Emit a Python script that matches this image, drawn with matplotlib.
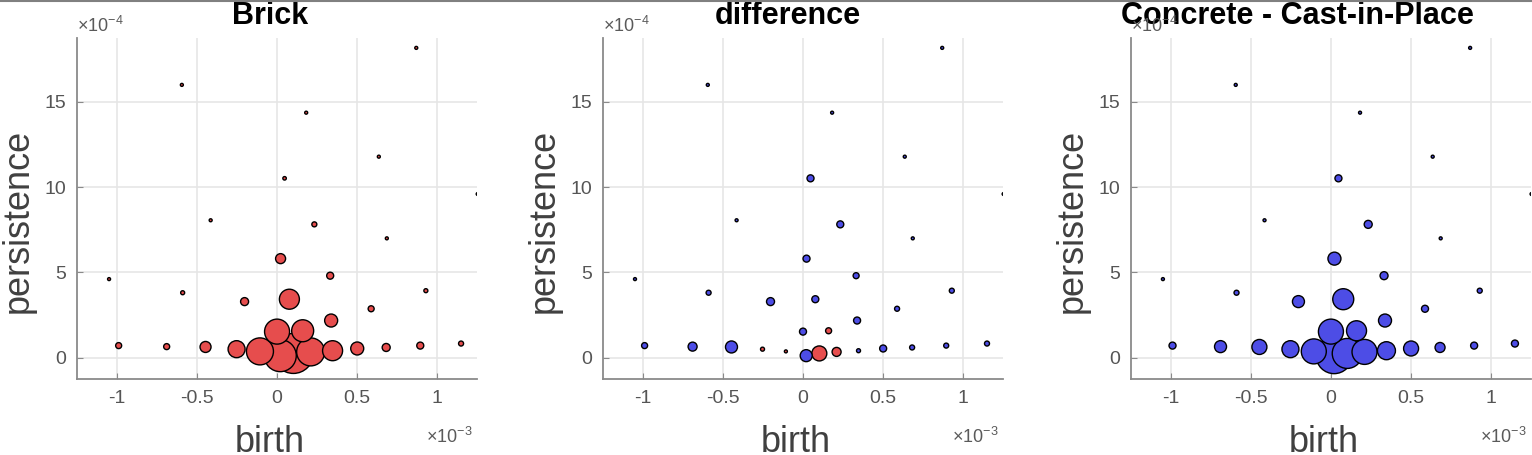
import numpy as np
import matplotlib
matplotlib.use('Agg')
import matplotlib.pyplot as plt
from matplotlib.lines import Line2D

plt.rcParams['font.family'] = 'Liberation Sans'
plt.rcParams['axes.unicode_minus'] = False
plt.rcParams['mathtext.fontset'] = 'custom'
plt.rcParams['mathtext.rm'] = 'Liberation Sans'
plt.rcParams['mathtext.it'] = 'Liberation Sans:italic'
plt.rcParams['mathtext.bf'] = 'Liberation Sans:bold'

# persistence diagram points: birth in 1e-3, persistence in 1e-4
birth = np.array([0.87, -0.595, 0.182, 0.636, 0.047, 1.254, -0.415, 0.233, 0.686, 0.022,
                  0.332, -1.05, -0.59, 0.93, 0.077, -0.203, 0.588, 0.338, 0.0, 0.16,
                  -0.99, -0.69, -0.447, -0.253, -0.107, 0.02, 0.102, 0.21, 0.347, 0.501,
                  0.682, 0.895, 1.15])
persistence = np.array([18.17, 16.0, 14.37, 11.79, 10.52, 9.6, 8.06, 7.82, 7.0, 5.81,
                        4.81, 4.61, 3.81, 3.93, 3.43, 3.29, 2.87, 2.18, 1.53, 1.58,
                        0.71, 0.65, 0.63, 0.5, 0.37, 0.12, 0.25, 0.34, 0.41, 0.54,
                        0.6, 0.71, 0.83])

# point weights (bubble diameter) per material, signed for the difference
brick_w = np.array([3, 3, 3, 3, 3.5, 3, 3, 5, 3, 10, 7, 3, 4, 4, 20, 8, 6, 13, 25, 22,
                    6, 6, 11, 17, 27, 32, 40, 28, 20, 13, 8, 7, 5])
concrete_w = np.array([3, 3, 3, 3, 7, 3, 3, 8, 3, 13, 8, 3, 5, 5, 21, 12, 7, 13, 25, 20,
                       7, 12, 15, 17, 25, 36, 30, 25, 18, 15, 10, 7, 7])
diff_w = np.array([3, 3, 3, 3, 7, 3, 3, 7, 3, 7, 6, 3, 5, 5, 7, 8, 5, 7, 7, -6,
                   6, 9, 12, -4, -3, 12, -15, -9, 4, 7, 5, 5, 5])

titles = ['Brick', 'difference', 'Concrete - Cast-in-Place']
title_x = [0.483, 0.462, 0.4175]
xticks = [-1, -0.5, 0, 0.5, 1]
yticks = [0, 5, 10, 15]

red = '#e64d4d'
blue = '#4d4de6'

fig = plt.figure(figsize=(15.32, 4.55), dpi=100)
lefts = [0.0503, 0.3936, 0.7382]

panels = [(brick_w, np.array([red] * len(brick_w))),
          (diff_w, np.where(diff_w < 0, red, blue)),
          (concrete_w, np.array([blue] * len(concrete_w)))]

for i, (w, cols) in enumerate(panels):
    ax = fig.add_axes([lefts[i], 0.167, 0.2611, 0.7495])
    # bigger bubbles first so the small ones stay visible on top
    order = np.argsort(-np.abs(w), kind='stable')
    s = (0.72 * np.abs(w)) ** 2
    ax.scatter(birth[order], persistence[order], s=s[order], c=cols[order],
               edgecolors='k', linewidths=1.0, zorder=3)
    ax.set_xlim(-1.25, 1.25)
    ax.set_ylim(-1.25, 18.75)
    ax.set_xticks(xticks)
    ax.set_xticklabels(['%g' % t for t in xticks])
    ax.set_yticks(yticks)
    ax.set_yticklabels(['%g' % t for t in yticks])
    ax.grid(True, color='#e6e6e6', lw=1.2, zorder=0)
    ax.set_axisbelow(True)
    for sp in ['top', 'right']:
        ax.spines[sp].set_visible(False)
    for sp in ['left', 'bottom']:
        ax.spines[sp].set_color('#8a8a8a')
        ax.spines[sp].set_linewidth(1.3)
    ax.tick_params(direction='in', length=4, color='#8a8a8a', labelsize=14,
                   labelcolor='#555555', pad=8)
    ax.text(title_x[i], 1.041, titles[i], transform=ax.transAxes, ha='center',
            va='baseline', fontsize=22, fontweight='bold', color='k')
    ax.text(0.483, -0.214, 'birth', transform=ax.transAxes, ha='center',
            va='baseline', fontsize=26, color='#404040')
    ax.text(-0.1225, 0.463, 'persistence', transform=ax.transAxes, ha='center',
            va='baseline', rotation=90, rotation_mode='anchor', fontsize=26,
            color='#404040')
    ax.text(0.0, 1.0185, r'$\times10^{-4}$', transform=ax.transAxes, ha='left',
            va='baseline', fontsize=13, color='#5a5a5a')
    ax.text(0.99, -0.188, r'$\times10^{-3}$', transform=ax.transAxes, ha='right',
            va='baseline', fontsize=13, color='#5a5a5a')

fig.add_artist(Line2D([0, 1], [0.998, 0.998], transform=fig.transFigure,
                      color='#808080', lw=1.5))

fig.savefig('out.png', dpi=100)
